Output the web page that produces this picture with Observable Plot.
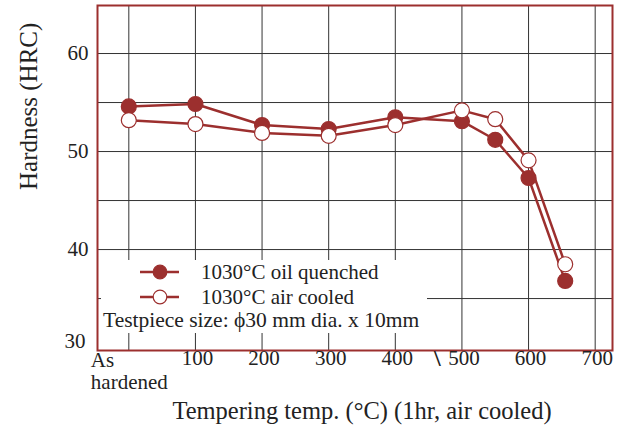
<!DOCTYPE html>
<html>
<head>
<meta charset="utf-8">
<script src="https://cdn.jsdelivr.net/npm/d3@7"></script>
<script src="https://cdn.jsdelivr.net/npm/@observablehq/plot@0.6"></script>
<style>
  html, body { margin: 0; padding: 0; background: #fff; }
  #wrap { position: relative; width: 623px; height: 430px; font-family: "Liberation Serif", "DejaVu Serif", serif; }
  #legend { position: absolute; left: 101px; top: 260px; width: 326px; height: 73px; background: #fff; font-size: 21px; color: #222; }
  #legend .row { position: absolute; left: 0; white-space: nowrap; line-height: 24px; }
</style>
</head>
<body>
<div id="wrap"></div>
<script>
// Data (x = tempering temperature, 0 = "As hardened")
const temps = [0, 100, 200, 300, 400, 500, 550, 600, 655];
const oilQuenched = [54.6, 54.85, 52.7, 52.3, 53.5, 53.1, 51.2, 47.3, 36.8];
const airCooled = [53.2, 52.8, 51.9, 51.6, 52.7, 54.2, 53.3, 49.1, 38.5];
const xTickValues = [100, 200, 300, 400, 500, 600, 700];
const xGridValues = [0, 100, 200, 300, 400, 500, 600, 700];
const yTickValues = [40, 50, 60];
const yBottomTick = [30];
const yGridValues = [35, 40, 45, 50, 55, 60];
const seriesNames = ["1030\u00B0C oil quenched", "1030\u00B0C air cooled"];

const red = "#9c2f2e";
const oil = temps.map((t, i) => ({t, v: oilQuenched[i]}));
const air = temps.map((t, i) => ({t, v: airCooled[i]}));

const chart = Plot.plot({
  width: 623,
  height: 430,
  marginLeft: 97,
  marginRight: 11,
  marginTop: 5,
  marginBottom: 80,
  x: {domain: [-47, 726], axis: null},
  y: {domain: [29.7, 64.9], axis: null},
  style: {fontFamily: "Liberation Serif, serif", fontSize: "21px", color: "#222", background: "#fff"},
  marks: [
    Plot.ruleY(yGridValues, {stroke: "#333", strokeWidth: 1}),
    Plot.ruleX(xGridValues, {stroke: "#333", strokeWidth: 1}),
    Plot.line(oil, {x: "t", y: "v", stroke: red, strokeWidth: 2.5}),
    Plot.line(air, {x: "t", y: "v", stroke: red, strokeWidth: 2.5}),
    Plot.dot(oil, {x: "t", y: "v", r: 7.5, fill: red, stroke: red, strokeWidth: 1.2}),
    Plot.dot(air, {x: "t", y: "v", r: 7.5, fill: "#fff", stroke: red, strokeWidth: 1.2}),
    Plot.frame({stroke: red, strokeWidth: 2}),
    // y tick labels
    Plot.text(yTickValues, {x: -47, y: d => d, text: d => String(d), textAnchor: "end", dx: -9, fontSize: 21, fill: "#222"}),
    Plot.text(yBottomTick, {x: -47, y: d => d, text: d => String(d), textAnchor: "end", dx: -12, dy: -6, fontSize: 21, fill: "#222"}),
    // x tick labels
    Plot.text(xTickValues, {x: d => d, y: 29.7, text: d => String(d), lineAnchor: "top", dy: 0, dx: 2, fontSize: 21, fill: "#222"}),
    Plot.text([0], {x: d => d, y: 29.7, text: () => "As\nhardened", lineAnchor: "top", textAnchor: "start", dx: -38, dy: 1, lineHeight: 1.05, fontSize: 21, fill: "#222"}),
    // axis break mark
    Plot.text([463], {x: d => d, y: 29.7, text: () => "\\", lineAnchor: "top", dy: -2, fontSize: 24, fontWeight: "bold", fill: "#222"}),
    // axis titles
    Plot.text(["Tempering temp. (\u00B0C) (1hr, air cooled)"], {frameAnchor: "bottom", text: d => d, dy: 68, dx: 7, fontSize: 24.5, fill: "#222", lineAnchor: "bottom"}),
    Plot.text(["Hardness (HRC)"], {frameAnchor: "left", text: d => d, dx: -69, dy: 12, rotate: -90, fontSize: 25, fill: "#222"})
  ]
});

const wrap = document.getElementById("wrap");
wrap.appendChild(chart);

const legend = document.createElement("div");
legend.id = "legend";
const sym = (filled) => `<svg width="44" height="18" style="position:absolute;left:38px;top:3px"><line x1="1" y1="9" x2="40" y2="9" stroke="${red}" stroke-width="2.5"/><circle cx="21" cy="9" r="6.8" fill="${filled ? red : "#fff"}" stroke="${red}" stroke-width="1.2"/></svg>`;
legend.innerHTML =
  `<div class="row" style="top:0px;">${sym(true)}<span style="position:absolute;left:100px;">${seriesNames[0]}</span></div>` +
  `<div class="row" style="top:25px;">${sym(false)}<span style="position:absolute;left:100px;">${seriesNames[1]}</span></div>` +
  `<div class="row" style="top:48px;left:2px;font-size:21.5px;">Testpiece size: \u03D530 mm dia. x 10mm</div>`;
wrap.appendChild(legend);
</script>
</body>
</html>
